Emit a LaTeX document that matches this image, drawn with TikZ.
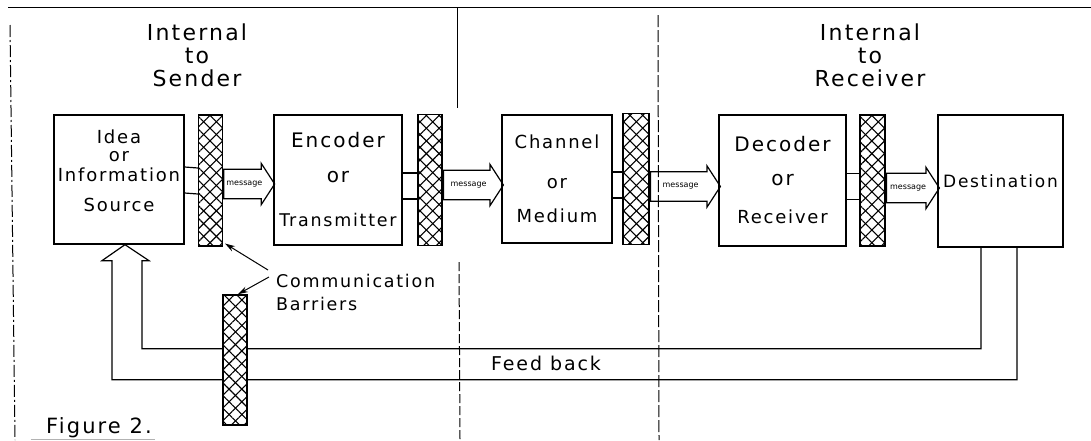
\documentclass[tikz,border=0pt]{standalone}
\usepackage{fontspec}
\setmainfont{DejaVu Sans}[LetterSpace=10]
\usepackage{tikz}
\usetikzlibrary{arrows.meta, shapes.arrows, patterns.meta, positioning, calc}

\newcommand{\hdtxt}{\fontsize{22}{23}\selectfont}
\newcommand{\bxtxt}{\fontsize{18}{20}\selectfont}
\newcommand{\bgtxt}{\fontsize{20}{22}\selectfont}
\newcommand{\smtxt}{\fontsize{8}{8}\selectfont\addfontfeatures{LetterSpace=0}}
\newcommand{\cmtxt}{\fontsize{17.5}{23}\selectfont}

\begin{document}
\begin{tikzpicture}[x=1pt,y=-1pt,
	block/.style={draw,line width=1.3pt,inner sep=0pt,align=center,font=\bxtxt},
	barrier/.style={draw,line width=1.6pt,inner sep=0pt,minimum width=24pt,minimum height=131pt,
		preaction={fill=white},
		preaction={pattern={Lines[angle=45,distance=9pt,line width=1.1pt]}},
		pattern={Lines[angle=-45,distance=9pt,line width=1.1pt]}},
	msgarrow/.style={single arrow,draw,line width=1.2pt,inner xsep=0pt,inner ysep=11pt,
		single arrow head extend=6pt,single arrow tip angle=114,anchor=tail,font=\smtxt},
	link/.style={line width=1.2pt},
	divider/.style={line width=1pt}]
	\useasboundingbox (0,0) rectangle (1091,440);
	\draw[divider] (8,7) -- (1091,7);
	\draw[divider,dash pattern=on 12pt off 3pt on 2pt off 3pt] (10,25) -- (15,440);
	\draw[divider] (457,7) -- (457,108);
	\draw[divider,dash pattern=on 9pt off 3pt] (459,262) -- (460,440);
	\draw[divider,dash pattern=on 12pt off 3pt] (658,15) -- (659,440);

	\node[font=\hdtxt,align=center] (sender) at (197,55) {Internal\\to\\Sender};
	\node[font=\hdtxt,align=center] (receiver) at (870,55) {Internal\\to\\Receiver};

	\node[block,minimum width=130pt,minimum height=129pt,text depth=17pt] (src) at (119,179.5)
		{Idea\\[-2pt]or\\Information\\[10pt]Source};
	\node[block,minimum width=128pt,minimum height=130pt,font=\bgtxt] (enc) at (338,180)
		{Encoder\\[13pt]or\\[22pt]{\fontsize{17.5}{20}\selectfont Transmitter}};
	\node[block,minimum width=110pt,minimum height=128pt] (chan) at (557,179)
		{Channel\\[20pt]or\\[14pt]Medium};
	\node[block,minimum width=127pt,minimum height=131pt,font=\bgtxt] (dec) at (782.5,180.5)
		{Decoder\\[12pt]or\\[16pt]{\bxtxt Receiver}};
	\node[block,minimum width=125pt,minimum height=132pt,font=\fontsize{17}{20}\selectfont] (dest) at (1000.5,181)
		{Destination};

	\node[barrier] (bar1) at (210.5,180.5) {};
	\node[barrier] (bar2) at (430,180) {};
	\node[barrier,minimum width=26pt] (bar3) at (636,179) {};
	\node[barrier,minimum width=25pt] (bar4) at (872.5,180.5) {};

	\draw[link] ([yshift=12.5pt]src.east) -- ([yshift=12.5pt]bar1.west);
	\draw[link] ([yshift=-13.5pt]src.east) -- ([yshift=-13.5pt]bar1.west);
	\foreach \a/\b in {enc/bar2,chan/bar3,dec/bar4}
		\foreach \s in {7,-19}
			\draw[link] ([yshift=\s pt]\a.east) -- ([yshift=\s pt]\b.west);

	\node[msgarrow,minimum height=51pt] (msg1) at ([yshift=-3.5pt]bar1.east) {message};
	\node[msgarrow,minimum height=60pt] (msg2) at ([yshift=-5pt]bar2.east) {message};
	\node[msgarrow,minimum height=70pt] (msg3) at ([yshift=-7.5pt]bar3.east) {message};
	\node[msgarrow,minimum height=53pt] (msg4) at ([yshift=-7.5pt]bar4.east) {message};

	\coordinate (fbtip) at ([xshift=6pt]src.south);
	\draw[link] (fbtip) -- ++(24,16) -- ++(-7,0) -- ++(0,88) -| ([xshift=-19.5pt]dest.south);
	\draw[link] (fbtip) -- ++(-23,16) -- ++(10,0) -- ++(0,119) -| ([xshift=16.5pt]dest.south);
	\node[barrier,minimum height=130pt] (bar5) at (235,360) {};
	\node[font=\fontsize{19}{20}\selectfont] (fb) at (546,363) {Feed back};

	\node[font=\cmtxt,align=left,anchor=west,inner sep=0pt] (comm) at (276,292) {Communication\\Barriers};
	\draw[line width=1pt,-{Stealth[length=10pt,width=6pt]}] ([shift={(-8,-22)}]comm.west) -- ([shift={(2,-3)}]bar1.south east);
	\draw[line width=1pt,-{Stealth[length=10pt,width=6pt]}] ([shift={(-7,-15)}]comm.west) -- ([xshift=3pt]bar5.north);

	\node[font=\fontsize{21}{22}\selectfont] (fig) at (99,428) {Figure 2.};
	\draw[gray!60,line width=0.6pt] ([xshift=-12pt,yshift=2pt]fig.south west) -- ([yshift=2pt]fig.south east);
\end{tikzpicture}
\end{document}
